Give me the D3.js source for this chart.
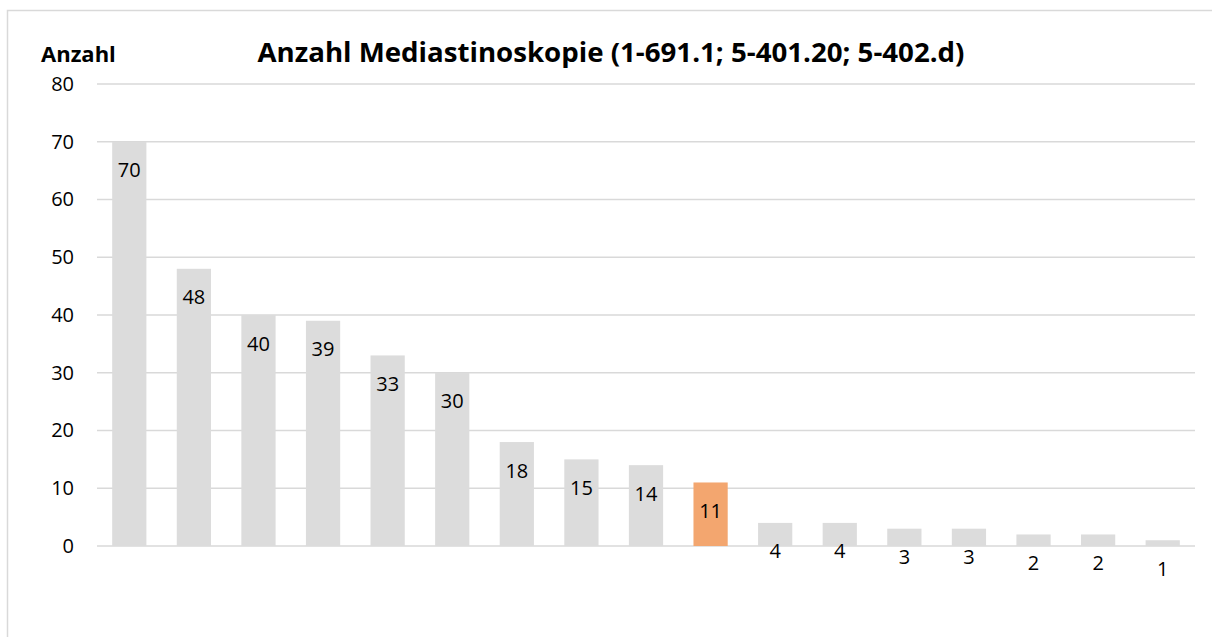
<!DOCTYPE html>
<html>
<head>
<meta charset="utf-8">
<script src="https://cdn.jsdelivr.net/npm/d3@7"></script>
<style>
  body { margin: 0; background: #fff; }
  svg { display: block; font-family: "Open Sans", sans-serif; }
</style>
</head>
<body>
<div id="chart"></div>
<script>
// data (no category names shown)
const categories = d3.range(1, 18).map(String);
const values     = [70, 48, 40, 39, 33, 30, 18, 15, 14, 11, 4, 4, 3, 3, 2, 2, 1];
const highlight  = "10";
const yTicks     = [0, 10, 20, 30, 40, 50, 60, 70, 80];

const colors = {
  bar:    "#dcdcdc",
  hi:     "#f3a66f",
  grid:   "#d9d9d9",
  text:   "#000000",
  border: "#d9d9d9",
};

const W = 1212, H = 637;
const margin = { top: 84, right: 17, bottom: 91, left: 97 };
const width  = W - margin.left - margin.right;
const height = H - margin.top - margin.bottom;

const svg = d3.select("#chart").append("svg")
  .attr("width", W).attr("height", H);

// outer chart border (right edge falls outside the picture)
svg.append("rect")
  .attr("x", 7.5).attr("y", 10.5)
  .attr("width", W + 10).attr("height", H + 10)
  .attr("fill", "none")
  .attr("stroke", colors.border)
  .attr("stroke-width", 1.5);

const g = svg.append("g")
  .attr("transform", `translate(${margin.left},${margin.top})`);

const x = d3.scaleBand()
  .domain(categories)
  .range([0, width])
  .paddingInner(0.47)
  .paddingOuter(0.235);

const y = d3.scaleLinear()
  .domain([0, 80])
  .range([height, 0]);

// gridlines
g.selectAll(".grid")
  .data(yTicks).enter().append("line")
  .attr("x1", 0).attr("x2", width)
  .attr("y1", d => y(d)).attr("y2", d => y(d))
  .attr("stroke", colors.grid)
  .attr("stroke-width", 1.5);

// y axis labels
g.append("g")
  .call(d3.axisLeft(y).tickValues(yTicks).tickSize(0).tickPadding(23))
  .call(a => a.select(".domain").remove())
  .call(a => a.selectAll("text")
    .style("font-family", "'Open Sans', sans-serif")
    .style("font-size", "20px")
    .attr("fill", colors.text));

// bars
g.selectAll(".bar")
  .data(values).enter().append("rect")
  .attr("x", (d, i) => x(categories[i]))
  .attr("y", d => y(d))
  .attr("width", x.bandwidth())
  .attr("height", d => height - y(d))
  .attr("fill", (d, i) => categories[i] === highlight ? colors.hi : colors.bar);

// value labels
g.selectAll(".lbl")
  .data(values).enter().append("text")
  .attr("x", (d, i) => x(categories[i]) + x.bandwidth() / 2)
  .attr("y", d => y(d) + 28)
  .attr("text-anchor", "middle")
  .attr("dominant-baseline", "central")
  .style("font-size", "20px")
  .attr("fill", colors.text)
  .text(d => d);

// titles
svg.append("text")
  .attr("x", 611).attr("y", 62)
  .attr("text-anchor", "middle")
  .attr("textLength", 707)
  .attr("lengthAdjust", "spacingAndGlyphs")
  .style("font-size", "26px")
  .style("font-weight", "700")
  .attr("fill", colors.text)
  .text("Anzahl Mediastinoskopie (1-691.1; 5-401.20; 5-402.d)");

svg.append("text")
  .attr("x", 41).attr("y", 62)
  .style("font-size", "22px")
  .style("font-weight", "700")
  .attr("fill", colors.text)
  .text("Anzahl");
</script>
</body>
</html>
